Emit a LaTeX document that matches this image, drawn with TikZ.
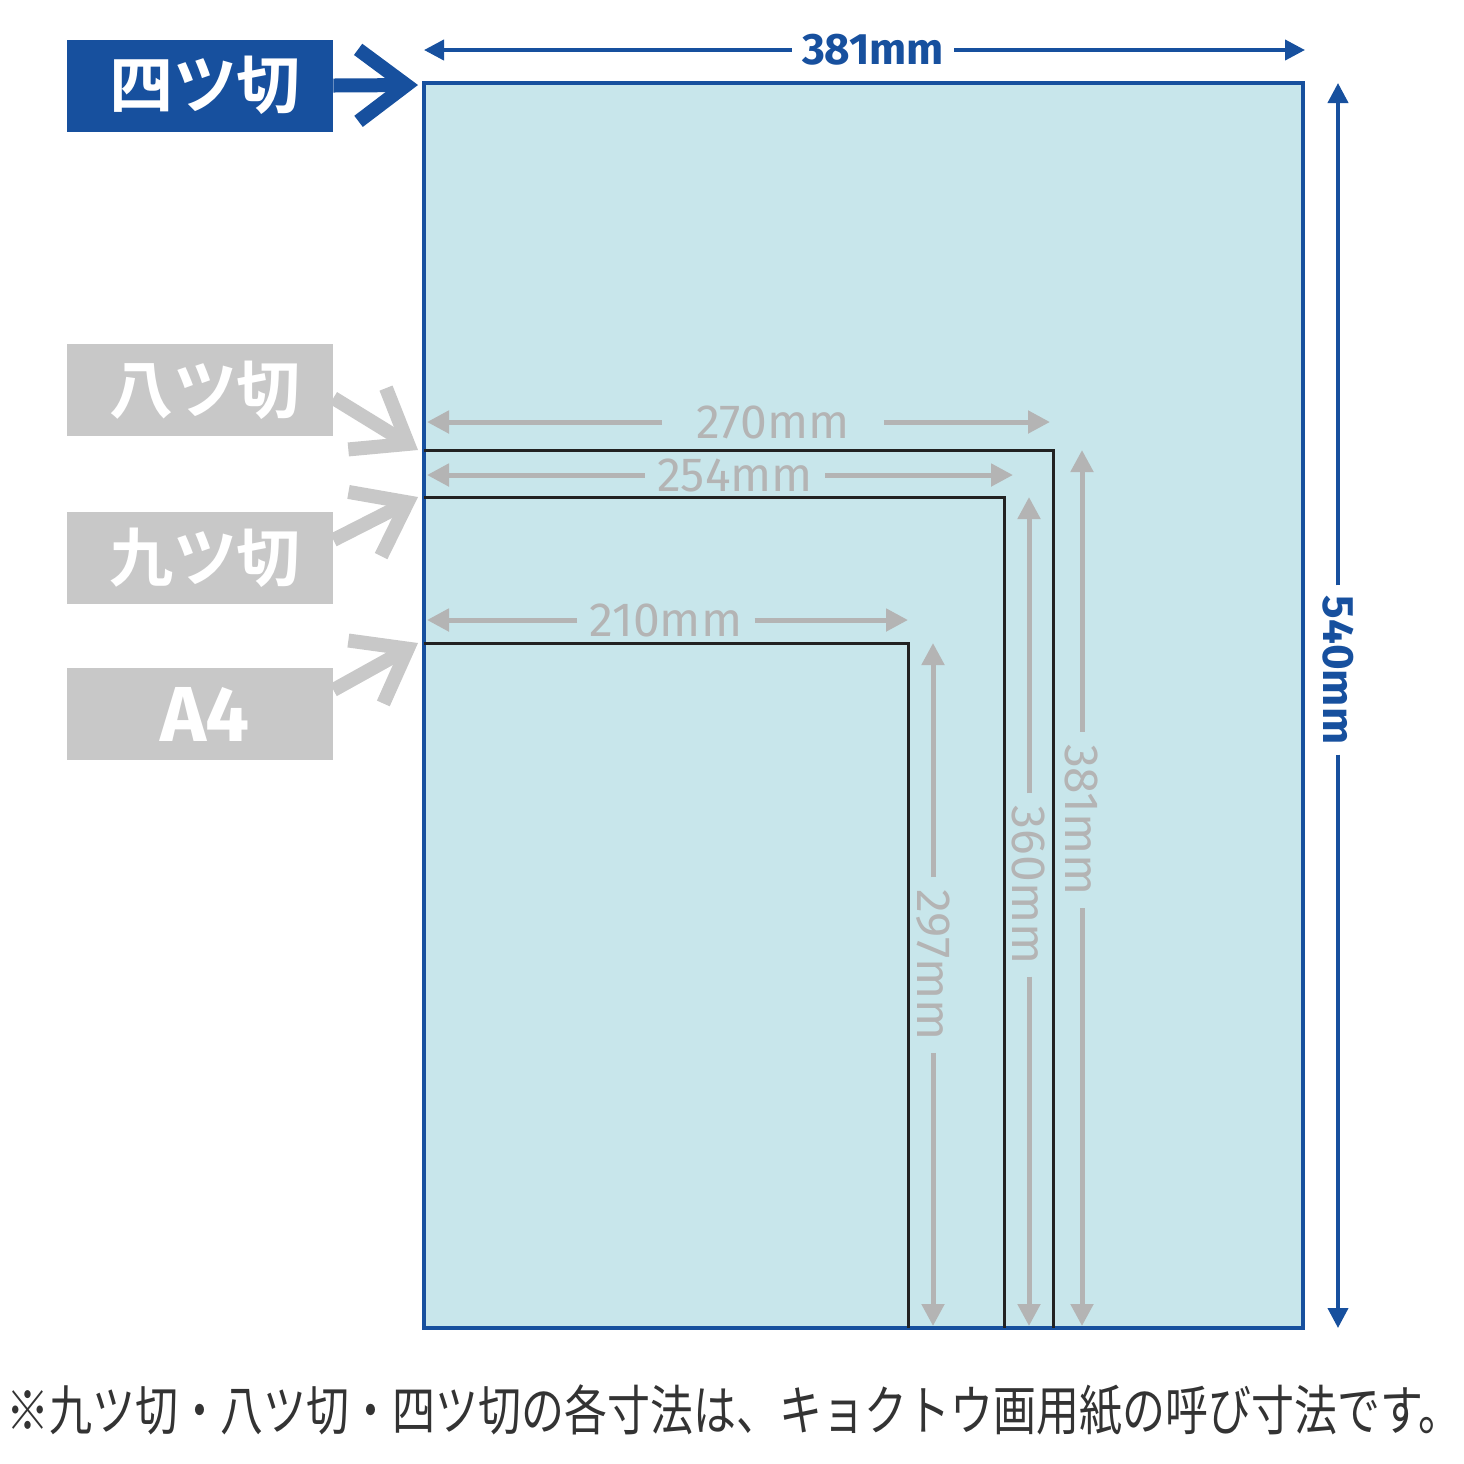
\documentclass[tikz,border=0pt]{standalone}
\usepackage{fontspec}
\setmainfont{Fira Sans}
\newfontfamily\jp{Noto Sans CJK JP}[BoldFont={Noto Sans CJK JP Bold}]
\usetikzlibrary{arrows.meta,positioning,calc}
\definecolor{kblue}{HTML}{17509E}
\definecolor{kpaper}{HTML}{C8E6EB}
\definecolor{kgray}{HTML}{C8C8C8}
\definecolor{kdim}{HTML}{B4B4B4}
\definecolor{kline}{HTML}{222222}
\definecolor{knote}{HTML}{333333}

\begin{document}
\begin{tikzpicture}[x=0.5pt, y=-0.5pt,
	tag/.style={rectangle, minimum width=133pt, minimum height=46pt, inner sep=0pt, text=white, font=\jp\bfseries\fontsize{32}{32}\selectfont},
	pointer/.style={line width=7pt, -{Straight Barb[length=24pt, width=36pt, sharp]}},
	dimline/.style={kdim, line width=2.5pt, -{Triangle[length=11pt, width=11pt]}},
	dimtext/.style={text=kdim, inner sep=6pt, font=\fontsize{24}{24}\selectfont},
	bigline/.style={kblue, line width=2pt, -{Triangle[length=10pt, width=10pt]}},
	bigtext/.style={text=kblue, inner sep=5pt, font=\bfseries\fontsize{22}{22}\selectfont},
	edge/.style={kline, line width=1.5pt}]
	\useasboundingbox (0,0) rectangle (1464,1464);
	
	% sheet
	\draw[kblue, fill=kpaper, line width=2pt] (424,83) rectangle (1303,1328);
	\draw[edge] (424,450) -- (1053,450) -- (1053,1328);
	\draw[edge] (424,497) -- (1004,497) -- (1004,1328);
	\draw[edge] (424,643) -- (908,643) -- (908,1328);
	
	% tags
	\node[tag, fill=kblue] (yon) at (200,85.5) {\hspace{5pt}四ツ切};
	\node[tag, fill=kgray] (hachi) at (200,390) {\hspace{5pt}八ツ切};
	\node[tag, fill=kgray] (kyu) at (200,558) {\hspace{5pt}九ツ切};
	\node[tag, fill=kgray, font=\bfseries\fontsize{39}{39}\selectfont] (a4) at (200,714) {\hspace{5pt}A4};
	
	\coordinate (pyon) at (418,85);
	\coordinate (phachi) at (418,450);
	\coordinate (pkyu) at (418,497);
	\coordinate (pa4) at (418,643);
	\draw[pointer, kblue] (yon.east) -- (pyon);
	\draw[pointer, kgray] ([yshift=-4pt]hachi.east) -- (phachi);
	\draw[pointer, kgray] ([yshift=9pt]kyu.east) -- (pkyu);
	\draw[pointer, kgray] ([yshift=12pt]a4.east) -- (pa4);
	
	% outer size
	\node[bigtext] (w381) at (873,50) {381mm};
	\draw[bigline] (w381) -- (424,50);
	\draw[bigline] (w381) -- (1305,50);
	\node[bigtext, rotate=-90] (h540) at (1338,670) {540mm};
	\draw[bigline] (h540) -- (1338,83);
	\draw[bigline] (h540) -- (1338,1328);
	
	% widths
	\node[dimtext, inner xsep=17pt] (w270) at (773,422) {270mm};
	\draw[dimline] (w270) -- (427,422);
	\draw[dimline] (w270) -- (1050,422);
	\node[dimtext] (w254) at (735,475) {254mm};
	\draw[dimline] (w254) -- (427,475);
	\draw[dimline] (w254) -- (1013,475);
	\node[dimtext] (w210) at (666,620) {210mm};
	\draw[dimline] (w210) -- (427,620);
	\draw[dimline] (w210) -- (908,620);
	
	% heights
	\node[dimtext, rotate=-90] (h381) at (1082,820) {381mm};
	\draw[dimline] (h381) -- (1082,450);
	\draw[dimline] (h381) -- (1082,1326);
	\node[dimtext, rotate=-90] (h360) at (1029,885) {360mm};
	\draw[dimline] (h360) -- (1029,497);
	\draw[dimline] (h360) -- (1029,1326);
	\node[dimtext, rotate=-90] (h297) at (933,965) {297mm};
	\draw[dimline] (h297) -- (933,643);
	\draw[dimline] (h297) -- (933,1326);
	
	\node[text=knote, font=\jp\fontsize{27}{27}\selectfont] (note) at (734,1410) {\scalebox{0.795}[1]{※九ツ切・八ツ切・四ツ切の各寸法は、キョクトウ画用紙の呼び寸法です。}};
\end{tikzpicture}
\end{document}
